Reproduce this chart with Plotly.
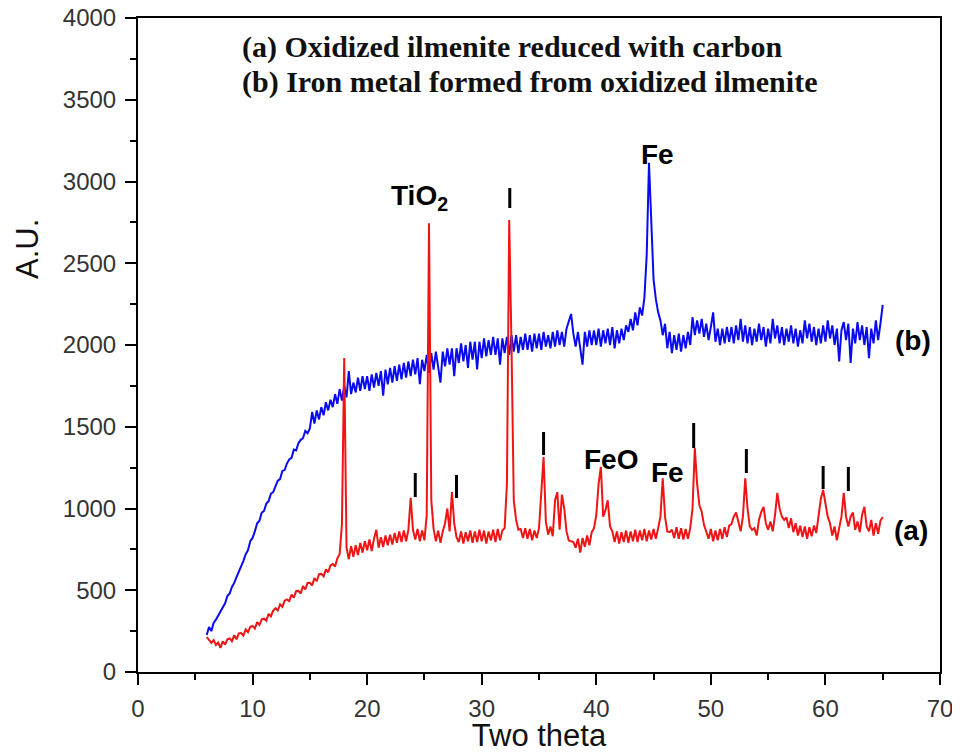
import numpy as np
import plotly.graph_objects as go

# 2-theta scan grid (step 0.2 deg)
two_theta = np.round(np.arange(6.0, 65.0001, 0.2), 1)

# (a) Oxidized ilmenite reduced with carbon  (rows: one degree, 5 samples)
counts_a = [
    214, 192, 178, 195, 165,   # 6
    180, 148, 188, 168, 200,   # 7
    205, 188, 225, 200, 236,   # 8
    238, 222, 260, 244, 276,   # 9
    282, 266, 305, 288, 322,   # 10
    326, 314, 356, 340, 376,   # 11
    390, 376, 414, 398, 436,   # 12
    444, 434, 474, 454, 494,   # 13
    496, 480, 525, 505, 545,   # 14
    546, 530, 574, 555, 598,   # 15
    600, 585, 628, 610, 652,   # 16
    660, 645, 695, 720, 905,   # 17
    1920, 760, 690, 770, 705,  # 18
    775, 715, 790, 730, 800,   # 19
    745, 810, 740, 815, 870,   # 20
    760, 825, 765, 835, 775,   # 21
    840, 780, 850, 790, 860,   # 22
    795, 865, 800, 870, 1065,  # 23
    870, 810, 875, 800, 865,   # 24
    805, 960, 2745, 1050, 875, # 25
    800, 865, 790, 860, 910,   # 26
    1000, 860, 1100, 910, 825, # 27
    795, 860, 785, 855, 800,   # 28
    865, 790, 860, 795, 870,   # 29
    800, 865, 785, 860, 805,   # 30
    870, 795, 875, 805, 865,   # 31
    880, 1150, 2765, 2000, 1050,  # 32
    930, 870, 875, 820, 880,   # 33
    815, 875, 805, 865, 820,   # 34
    880, 1100, 1315, 920, 840, # 35
    890, 830, 1050, 1100, 870, # 36
    1085, 1000, 860, 805, 800, # 37
    795, 760, 815, 730, 820,   # 38
    765, 835, 775, 855, 880,   # 39
    960, 1150, 1255, 950, 990, # 40
    1050, 890, 860, 795, 860,  # 41
    785, 855, 795, 865, 790,   # 42
    860, 800, 870, 795, 865,   # 43
    805, 875, 800, 865, 810,   # 44
    875, 815, 880, 950, 1185,  # 45
    950, 860, 855, 870, 820,   # 46
    885, 815, 880, 810, 875,   # 47
    815, 880, 1000, 1370, 1150,  # 48
    1020, 980, 900, 860, 815,  # 49
    875, 800, 865, 805, 875,   # 50
    815, 885, 825, 895, 905,   # 51
    950, 975, 920, 860, 950,   # 52
    1185, 1000, 890, 870, 880, # 53
    835, 930, 980, 1010, 910,  # 54
    870, 920, 860, 960, 1095,  # 55
    1000, 950, 930, 945, 880,  # 56
    940, 855, 910, 835, 895,   # 57
    825, 890, 815, 885, 830,   # 58
    895, 850, 950, 1060, 1113, # 59
    1040, 950, 910, 835, 890,  # 60
    805, 880, 950, 1095, 950,  # 61
    890, 950, 975, 870, 920,   # 62
    855, 960, 1010, 890, 860,  # 63
    930, 835, 910, 845, 925,   # 64
    948,                       # 65
]

# (b) Iron metal formed from oxidized ilmenite
counts_b = [
    226, 275, 250, 300, 320,   # 6
    345, 375, 400, 420, 465,   # 7
    480, 520, 545, 580, 610,   # 8
    650, 680, 720, 745, 800,   # 9
    820, 860, 910, 925, 975,   # 10
    985, 1030, 1045, 1090, 1100,  # 11
    1130, 1170, 1180, 1230, 1235, # 12
    1275, 1300, 1310, 1360, 1355, # 13
    1400, 1420, 1430, 1475, 1460, # 14
    1490, 1590, 1520, 1600, 1545, # 15
    1620, 1570, 1650, 1600, 1665, # 16
    1620, 1700, 1640, 1730, 1660, # 17
    1750, 1680, 1840, 1700, 1770, # 18
    1710, 1800, 1720, 1810, 1730, # 19
    1810, 1720, 1820, 1740, 1830, # 20
    1750, 1840, 1690, 1850, 1760, # 21
    1860, 1770, 1870, 1780, 1880, # 22
    1790, 1890, 1800, 1900, 1810, # 23
    1910, 1820, 1920, 1760, 1910, # 24
    1840, 1940, 1830, 1950, 1850, # 25
    1960, 1860, 1770, 1960, 1870, # 26
    1980, 1880, 1980, 1810, 1980, # 27
    1890, 2010, 1900, 2000, 1860, # 28
    2020, 1910, 2020, 1850, 2020, # 29
    1920, 2040, 1930, 2030, 1940, # 30
    2050, 1940, 2040, 1880, 2040, # 31
    1950, 2050, 1940, 2060, 1960, # 32
    2060, 1950, 2050, 1970, 2070, # 33
    1970, 2060, 1960, 2070, 1980, # 34
    2070, 1970, 2080, 1990, 2060, # 35
    1980, 2080, 1990, 2090, 2000, # 36
    2080, 1990, 2100, 2140, 2190, # 37
    2070, 1990, 2080, 1980, 1880, # 38
    2080, 1990, 2090, 2000, 2090, # 39
    2000, 2100, 1990, 2090, 2010, # 40
    2100, 2000, 2110, 1980, 2090, # 41
    2010, 2100, 2030, 2120, 2080, # 42
    2160, 2090, 2200, 2120, 2230, # 43
    2180, 2290, 2550, 3115, 2800, # 44
    2400, 2280, 2200, 2150, 2060, # 45
    2130, 1980, 2080, 1950, 2060, # 46
    1970, 2070, 1960, 2060, 1980, # 47
    2080, 2000, 2170, 2060, 2150, # 48
    2070, 2160, 2050, 2130, 2030, # 49
    2110, 2200, 2020, 2100, 2000, # 50
    2100, 2010, 2110, 2020, 2110, # 51
    2010, 2120, 2030, 2160, 2020, # 52
    2120, 2010, 2110, 2000, 2100, # 53
    2020, 2130, 2030, 2110, 1990, # 54
    2100, 2010, 2160, 2040, 2120, # 55
    2010, 2110, 2000, 2100, 2020, # 56
    2120, 2010, 2100, 1990, 2090, # 57
    2010, 2150, 2040, 2130, 2020, # 58
    2110, 2000, 2100, 2010, 2120, # 59
    2020, 2150, 2040, 2120, 2000, # 60
    2100, 1900, 2090, 2140, 2030, # 61
    2130, 1890, 2100, 2010, 2140, # 62
    2030, 2120, 2000, 2110, 1920, # 63
    2100, 2010, 2150, 2030, 2130, # 64
    2245,                         # 65
]

# peak marker bars (position, bottom, top)
marker_pos = [24.2, 27.8, 32.45, 35.4, 48.5, 53.1, 59.8, 62.0]
marker_lo = [1070, 1064, 2838, 1327, 1370, 1217, 1119, 1107]
marker_hi = [1217, 1205, 2960, 1468, 1523, 1364, 1260, 1254]

# phase labels
label_text = ["TiO<sub>2</sub>", "Fe", "FeO", "Fe", "(b)", "(a)"]
label_x = [24.6, 45.35, 41.3, 46.2, 67.6, 67.5]
label_y = [2900, 3168, 1297, 1223, 2030, 868]

legend_lines = ["(a) Oxidized ilmenite reduced with carbon",
                "(b) Iron metal formed from oxidized ilmenite"]

x_ticks = [0, 10, 20, 30, 40, 50, 60, 70]
y_ticks = [0, 500, 1000, 1500, 2000, 2500, 3000, 3500, 4000]

# the page body adds an 8px offset; size the figure so the plot box lands
# at page pixels x 138..940, y 18..672
OFF = 8
W, H = 960 - OFF, 753 - OFF
L, T, R = 138 - OFF, 18 - OFF, 20
B = H - T - (672 - 18)
PW, PH = W - L - R, H - T - B
PL_PAGE, PB_PAGE = 138, 672   # plot box left / bottom in page pixels

fig = go.Figure()
fig.add_trace(go.Scatter(x=two_theta, y=counts_b, mode="lines",
                         line=dict(color="#0a0af0", width=2), showlegend=False))
fig.add_trace(go.Scatter(x=two_theta, y=counts_a, mode="lines",
                         line=dict(color="#f01414", width=2), showlegend=False))

for xp, lo, hi in zip(marker_pos, marker_lo, marker_hi):
    fig.add_shape(type="line", xref="x", yref="y", x0=xp, x1=xp, y0=lo, y1=hi,
                  line=dict(color="black", width=3))

for t, xp, yp in zip(label_text, label_x, label_y):
    fig.add_annotation(x=xp, y=yp, xref="x", yref="y", text="<b>" + t + "</b>",
                       showarrow=False,
                       font=dict(family="Arial", size=28, color="black"),
                       xanchor="center", yanchor="middle")

for i, line in enumerate(legend_lines):
    px_y = [47, 82][i]
    fig.add_annotation(x=(240 - PL_PAGE) / PW, y=(PB_PAGE - px_y) / PH,
                       xref="paper", yref="paper",
                       text="<b>" + line + "</b>", showarrow=False,
                       font=dict(family="Liberation Serif", size=30, color="#111"),
                       xanchor="left", yanchor="middle")

fig.add_annotation(text="A.U.", textangle=-90, xref="paper", yref="paper",
                   x=(27 - PL_PAGE) / PW, y=(PB_PAGE - 249) / PH, showarrow=False,
                   xanchor="center", yanchor="middle",
                   font=dict(family="Arial", size=31, color="#111"))

axis_common = dict(showline=True, linewidth=2, linecolor="black", mirror=True,
                   ticks="outside", ticklen=11, tickwidth=2, tickcolor="black",
                   showgrid=False, zeroline=False, automargin=False,
                   ticklabeloverflow="allow",
                   tickfont=dict(family="Arial", size=24, color="#333"))

fig.update_xaxes(range=[0, 70], tickvals=x_ticks,
                 minor=dict(ticks="outside", ticklen=6, tickwidth=2, dtick=5, tick0=0,
                            tickcolor="black", showgrid=False),
                 title=dict(text="Two theta", font=dict(family="Arial", size=31, color="#111"),
                            standoff=8),
                 ticklabelstandoff=3, **axis_common)
fig.update_yaxes(range=[0, 4000], tickvals=y_ticks,
                 minor=dict(ticks="outside", ticklen=6, tickwidth=2, dtick=250, tick0=0,
                            tickcolor="black", showgrid=False),
                 ticklabelstandoff=4, **axis_common)

fig.update_layout(width=W, height=H, margin=dict(l=L, r=R, t=T, b=B),
                  paper_bgcolor="white", plot_bgcolor="white")

fig.write_html("out.html")
